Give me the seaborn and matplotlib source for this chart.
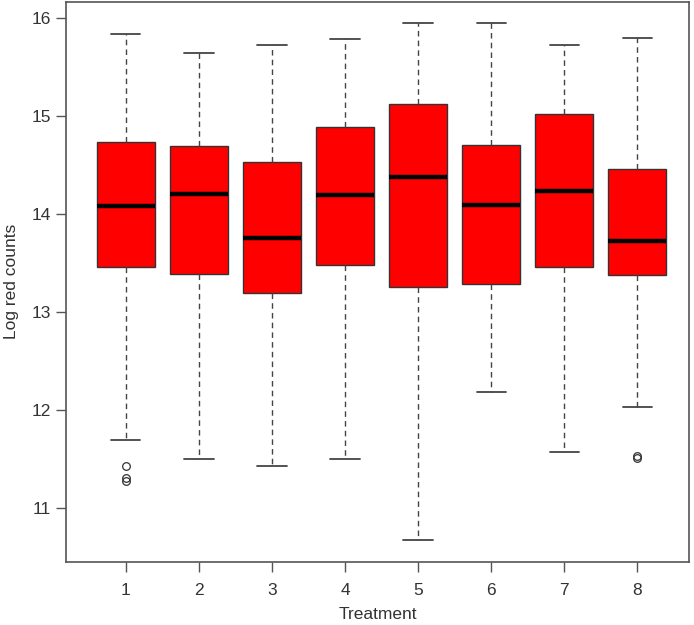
import numpy as np
import pandas as pd
import matplotlib
matplotlib.use("Agg")
import matplotlib.pyplot as plt
import seaborn as sns

# ---- data (five-number summaries per treatment) ----
treatments = ["1", "2", "3", "4", "5", "6", "7", "8"]
whisker_low = [11.69, 11.50, 11.43, 11.50, 10.67, 12.18, 11.57, 12.03]
q1 = [13.46, 13.39, 13.19, 13.48, 13.26, 13.29, 13.46, 13.38]
median = [14.08, 14.21, 13.76, 14.20, 14.38, 14.09, 14.24, 13.73]
q3 = [14.74, 14.70, 14.53, 14.89, 15.12, 14.71, 15.02, 14.46]
whisker_high = [15.84, 15.64, 15.73, 15.79, 15.95, 15.95, 15.73, 15.80]
outliers = [[11.43, 11.31, 11.28], [], [], [], [], [], [], [11.53, 11.51]]

# build a table whose quartiles reproduce the summaries exactly
rows = []
k = 20
for t, lo, a, m, b, hi, fl in zip(treatments, whisker_low, q1, median, q3,
                                   whisker_high, outliers):
    vals = list(fl) + [lo] + [a] * k + [m] * k + [b] * k + [hi]
    rows += [(t, v) for v in vals]
df = pd.DataFrame(rows, columns=["Treatment", "Log red counts"])

sns.set_style("white")
plt.rcParams["font.family"] = ["Liberation Sans", "DejaVu Sans"]

fig = plt.figure(figsize=(6.94, 6.25), dpi=100)
ax = fig.add_axes([0.095, 0.101, 0.898, 0.8965])

edge = "#333333"
sns.boxplot(
    data=df, x="Treatment", y="Log red counts", order=treatments,
    color="#ff0000", saturation=1, width=0.8, whis=1.5,
    linecolor=edge, linewidth=1.0, ax=ax,
    medianprops=dict(color="black", linewidth=3.2),
    whiskerprops=dict(color="#444444", linewidth=1.0, linestyle=(0, (4, 3))),
    capprops=dict(color="#444444", linewidth=1.3),
    flierprops=dict(marker="o", markersize=5.5, markerfacecolor="none",
                    markeredgecolor="#333333", markeredgewidth=0.9),
    boxprops=dict(edgecolor=edge, linewidth=1.0),
)

ax.set_xlim(-0.82, 7.71)
ax.set_ylim(10.45, 16.17)
ax.set_yticks([11, 12, 13, 14, 15, 16])
ax.set_yticklabels(["11", "12", "13", "14", "15", "16"])

for s in ax.spines.values():
    s.set_visible(True)
    s.set_color("#555555")
    s.set_linewidth(1.2)

ax.tick_params(axis="both", direction="out", length=7, width=1.0,
               color="#555555", labelsize=12.5, labelcolor="#333333",
               bottom=True, left=True, pad=4)
ax.tick_params(axis="x", pad=8)
ax.set_xlabel("Treatment", fontsize=12.5, color="#333333", labelpad=7)
ax.set_ylabel("Log red counts", fontsize=12.5, color="#333333", labelpad=9)
ax.grid(False)

fig.savefig("out.png", dpi=100)
